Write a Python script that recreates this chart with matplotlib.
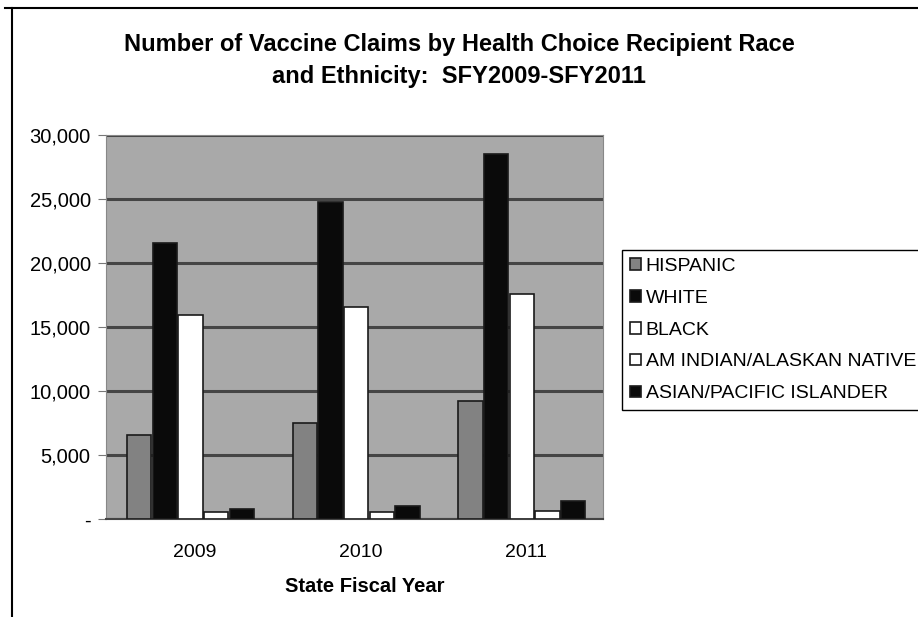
import numpy as np
import matplotlib.pyplot as plt
import matplotlib.transforms as mtransforms
from matplotlib.lines import Line2D

plt.rcParams['font.family'] = ['Liberation Sans', 'DejaVu Sans']

years = ['2009', '2010', '2011']
groups = ['HISPANIC', 'WHITE', 'BLACK', 'AM INDIAN/ALASKAN NATIVE', 'ASIAN/PACIFIC ISLANDER']
hispanic = [6600, 7500, 9200]
white = [21600, 24800, 28500]
black = [15900, 16600, 17600]
am_indian = [550, 550, 650]
asian = [750, 1000, 1400]
series = [hispanic, white, black, am_indian, asian]
colors = ['#828282', '#0a0a0a', '#ffffff', '#ffffff', '#0a0a0a']

fig = plt.figure(figsize=(9.18, 6.17), dpi=100)
ax = fig.add_axes([106/918, 1-519/617, 497/918, (519-135)/617])
ax.set_facecolor('#a9a9a9')

x = np.arange(len(years))
w = 0.155
for i, (vals, c) in enumerate(zip(series, colors)):
    ax.bar(x + (i-2)*w + 0.01, vals, w*0.94, color=c, edgecolor='#1a1a1a', linewidth=1.2,
           label=groups[i], zorder=3)

ax.set_xlim(-0.5, 2.5)
ax.set_ylim(0, 30000)
ax.set_yticks(np.arange(0, 30001, 5000))
ax.set_yticklabels(['-'] + ['{:,}'.format(v) for v in range(5000, 30001, 5000)], fontsize=14.5)
ax.yaxis.grid(True, color='#454545', linewidth=2.2, zorder=1)
ax.set_axisbelow(True)
ax.set_xticks(x)
ax.set_xticklabels(years, fontsize=14)
ax.tick_params(axis='y', length=6, color='#777777', pad=5)
ax.tick_params(axis='x', length=0, pad=18)
# year labels sit a little right of the bar groups
shift = mtransforms.ScaledTranslation(6/100, 0, fig.dpi_scale_trans)
for lab in ax.get_xticklabels():
    lab.set_transform(lab.get_transform() + shift)
ax.set_xlabel('State Fiscal Year', fontsize=14.5, fontweight='bold')
ax.xaxis.set_label_coords(0.52, -0.152)
for s in ['top', 'right', 'left']:
    ax.spines[s].set_color('#888888')
ax.spines['bottom'].set_color('#444444')
ax.spines['bottom'].set_linewidth(1.5)

fig.text(0.5, 1-44/617, 'Number of Vaccine Claims by Health Choice Recipient Race',
         ha='center', va='center', fontsize=17, fontweight='bold')
fig.text(0.5, 1-76/617, 'and Ethnicity:  SFY2009-SFY2011',
         ha='center', va='center', fontsize=17, fontweight='bold')

# outer chart frame
fig.add_artist(Line2D([5/918, 1], [1-8/617, 1-8/617], color='black', linewidth=1.5,
                      transform=fig.transFigure))
fig.add_artist(Line2D([12/918, 12/918], [0, 1-8/617], color='black', linewidth=1.5,
                      transform=fig.transFigure))

leg = fig.legend(loc='upper left', bbox_to_anchor=(622/918, 1-250/617), fontsize=14,
                 frameon=True, fancybox=False, edgecolor='black', framealpha=1,
                 handlelength=0.55, handleheight=0.55, handletextpad=0.25,
                 labelspacing=0.76, borderpad=0.42, borderaxespad=0)
leg.get_frame().set_linewidth(1.0)

fig.savefig('out.png', dpi=100)
